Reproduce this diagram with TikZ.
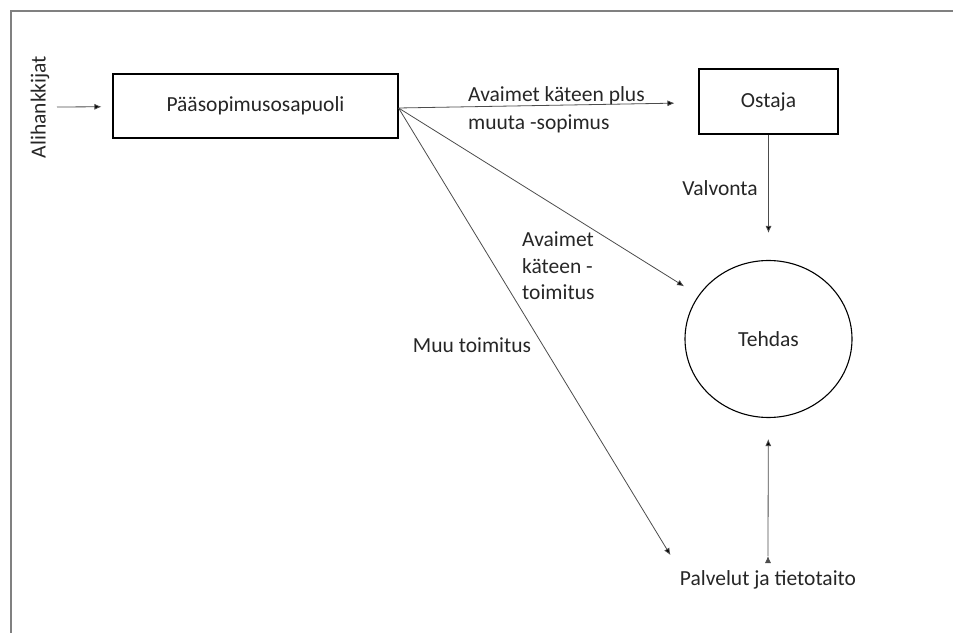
\documentclass[tikz,border=0pt]{standalone}
\usepackage{fontspec}
\setmainfont{Carlito}
\usetikzlibrary{positioning,calc,shapes,arrows,arrows.meta}

\begin{document}
\begin{tikzpicture}[x=1pt,y=1pt,auto]
                        \tikzstyle{every node}=[font=\fontsize{21.5}{26.5}\selectfont,text=black!85,inner sep=0]
                        \tikzstyle{note}=[draw=none,fill=none,align=left]
                        \tikzstyle{party}=[draw=black,line width=1.1,rectangle,fill=white]
                        \tikzstyle{plant}=[draw=black,line width=1.1,ellipse,minimum width=167,minimum height=157]
                        \tikzstyle{flow}=[->,>={Latex[length=7,width=6]},draw=black!70,line width=0.8]
                        {
                            \useasboundingbox (0,0) rectangle (953,632);
                            \draw[black!50,line width=2] (11,621) rectangle (970,-20);

                            \node[party,minimum width=285,minimum height=64] (main) at (255.5,526) {P\"a\"asopimusosapuoli};
                            \node[party,minimum width=139,minimum height=65] (buyer) at (768.5,530.5) {Ostaja};
                            \node[plant] (plant) at (768.5,293) {Tehdas};

                            \node[note,rotate=90] (subs) at (40,525) {Alihankkijat};
                            \node[note] (services) at (768,52) {Palvelut ja tietotaito};

                            \node[note,anchor=west] (l1) at (468,522) {Avaimet k\"ateen plus\\[2pt]muuta -sopimus};
                            \node[note,anchor=west] (l2) at (522,366) {Avaimet\\k\"ateen -\\toimitus};
                            \node[note] (l3) at (472,287) {Muu toimitus};
                            \node[note] (l4) at (720,444) {Valvonta};

                            \coordinate (out) at ($(main.east)+(0,-2)$);
                            \coordinate (subsout) at (57,525);
                            \coordinate (servicesout) at (768,76);

                            \path[flow]
                                (subsout) edge[shorten >=11] (main)
                                (out) edge[shorten >=24] (buyer)
                                (out) edge[shorten >=17] (plant)
                                (out) edge[shorten >=18] (services.north west)
                                (buyer) edge[shorten >=27] (plant)
                                (servicesout) edge[shorten >=21] (plant);
                        }
                    \end{tikzpicture}
\end{document}
